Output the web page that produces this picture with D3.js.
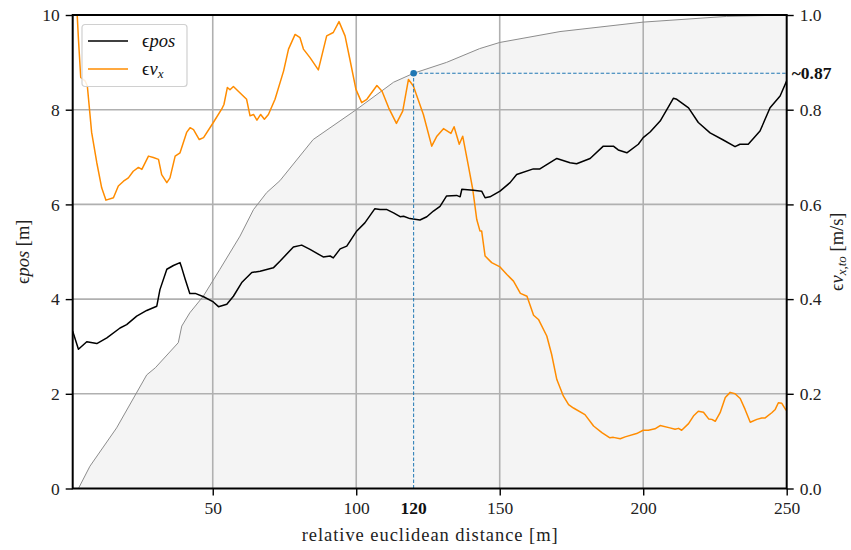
<!DOCTYPE html>
<html>
<head>
<meta charset="utf-8">
<script src="https://cdn.jsdelivr.net/npm/d3@7"></script>
<style>
  body { margin: 0; background: #fff; }
  svg { display: block; font-family: "Liberation Serif", "DejaVu Serif", serif; }
</style>
</head>
<body>
<svg id="chart" width="851" height="550"></svg>
<script>
// position error [m] along the track
const posDist = [1.2, 3.2, 6.1, 9.6, 13.1, 17.7, 20, 23.5, 27, 30.5, 31.6, 34, 36.3, 38.6, 39.2, 40.4, 42, 43.9, 46.8, 50.2, 52, 54.9, 57.2, 60.1, 63.6, 66.5, 71.1, 73.4, 78.1, 81, 83.9, 88.5, 90.9, 92, 94.4, 96.7, 100.2, 103, 106.5, 108.3, 110.7, 113, 115.3, 116.5, 118.7, 122.2, 124.6, 126.9, 129.2, 131.5, 135, 136.2, 136.8, 140.8, 143.7, 144.9, 146.6, 150.1, 153.6, 155.9, 161.7, 164, 169.9, 174.5, 176.8, 181.5, 186.1, 189.6, 191.3, 194.3, 198.3, 200, 202.4, 205.9, 210.5, 211.7, 215.8, 219.2, 223.3, 227.9, 232, 233.7, 236.6, 240.7, 244.2, 247.7, 250]
const posErr = [3.32, 2.94, 3.10, 3.06, 3.18, 3.39, 3.46, 3.64, 3.76, 3.85, 4.2, 4.63, 4.71, 4.77, 4.66, 4.42, 4.12, 4.12, 4.05, 3.94, 3.84, 3.89, 4.06, 4.35, 4.56, 4.59, 4.66, 4.80, 5.10, 5.14, 5.05, 4.89, 4.91, 4.87, 5.06, 5.12, 5.44, 5.61, 5.91, 5.89, 5.89, 5.82, 5.74, 5.75, 5.70, 5.67, 5.74, 5.86, 5.96, 6.18, 6.19, 6.16, 6.32, 6.30, 6.28, 6.14, 6.16, 6.28, 6.46, 6.63, 6.75, 6.75, 6.97, 6.88, 6.86, 6.97, 7.23, 7.23, 7.15, 7.09, 7.27, 7.41, 7.53, 7.76, 8.24, 8.22, 8.04, 7.73, 7.51, 7.36, 7.22, 7.27, 7.27, 7.55, 8.04, 8.29, 8.61]

// velocity error [m/s]
const velDist = [2.6, 3.2, 4.0, 5.5, 6.3, 7.8, 9.6, 11.3, 12.8, 15.4, 17.1, 18.9, 20.6, 22.3, 24.1, 25.3, 27.6, 29.3, 31.1, 32.2, 34, 35.1, 36.9, 38.6, 40.9, 42.1, 43.3, 45.3, 46.8, 50.2, 53.1, 53.9, 55.1, 56, 57.2, 58.9, 61.8, 63, 64.2, 65.4, 66.7, 68, 69.4, 71.7, 74.7, 76.4, 78.7, 80.4, 81.6, 83.9, 86.8, 89.7, 92, 94, 96.1, 97.8, 99.9, 101.9, 103.7, 107.2, 109, 111.3, 114, 116.2, 118.2, 119.9, 123.4, 126.3, 128.1, 130.4, 133, 134.1, 135.9, 137.1, 139.1, 140.6, 142, 143.1, 143.7, 144.9, 147.2, 150.1, 152.5, 154.8, 157.2, 159.5, 161.8, 163.5, 166.4, 168.1, 169.9, 172.2, 174, 175.7, 179.7, 182.7, 185.6, 188.4, 189.6, 192, 193.7, 197.7, 200, 201.8, 204.1, 205.9, 209.3, 211.1, 212.3, 213.4, 215.8, 217.5, 219.2, 221, 222.8, 223.9, 225.1, 226.8, 228.6, 230.3, 232, 233.8, 235.5, 237.3, 239.6, 241.3, 242.5, 244.8, 246, 247.1, 248.3, 249.8]
const velErr = [1.02, 0.949, 0.868, 0.861, 0.850, 0.752, 0.688, 0.635, 0.609, 0.614, 0.639, 0.649, 0.656, 0.670, 0.678, 0.674, 0.702, 0.699, 0.695, 0.663, 0.646, 0.656, 0.702, 0.709, 0.752, 0.762, 0.758, 0.737, 0.741, 0.773, 0.801, 0.811, 0.847, 0.842, 0.849, 0.839, 0.822, 0.787, 0.790, 0.778, 0.790, 0.780, 0.790, 0.822, 0.882, 0.928, 0.959, 0.952, 0.928, 0.910, 0.884, 0.956, 0.963, 0.986, 0.956, 0.906, 0.843, 0.815, 0.822, 0.851, 0.839, 0.804, 0.771, 0.797, 0.864, 0.850, 0.790, 0.723, 0.744, 0.760, 0.750, 0.764, 0.727, 0.744, 0.681, 0.632, 0.568, 0.544, 0.544, 0.491, 0.477, 0.468, 0.452, 0.438, 0.412, 0.406, 0.366, 0.357, 0.322, 0.283, 0.230, 0.195, 0.177, 0.170, 0.156, 0.132, 0.118, 0.107, 0.108, 0.105, 0.109, 0.116, 0.123, 0.123, 0.126, 0.133, 0.128, 0.125, 0.127, 0.123, 0.137, 0.153, 0.163, 0.161, 0.147, 0.146, 0.142, 0.160, 0.192, 0.203, 0.200, 0.190, 0.167, 0.140, 0.146, 0.149, 0.149, 0.160, 0.167, 0.181, 0.180, 0.165]

// cumulative share (right axis)
const cdfDist = [3.2, 7.2, 16.5, 27, 30, 38, 39.2, 42, 46.7, 52.5, 59.5, 64.2, 68.8, 73.4, 85, 100, 113, 120, 131.5, 143, 150, 171, 200, 229, 250]
const cdfVal = [0, 0.047, 0.128, 0.24, 0.255, 0.308, 0.343, 0.371, 0.406, 0.463, 0.533, 0.589, 0.625, 0.650, 0.737, 0.80, 0.858, 0.877, 0.90, 0.929, 0.942, 0.965, 0.985, 0.997, 1.0]

const xTicks = [50, 100, 150, 200, 250]
const yLeftTicks = [0, 2, 4, 6, 8, 10]
const yRightTicks = [0, 0.2, 0.4, 0.6, 0.8, 1.0]
const markDist = 120
const markVal = 0.877

const width = 851, height = 550
const margin = { top: 15, right: 64.3, bottom: 61.5, left: 72.7 }
const innerW = width - margin.left - margin.right
const innerH = height - margin.top - margin.bottom

const svg = d3.select("#chart")
const chart = svg.append("g").attr("transform", `translate(${margin.left},${margin.top})`)

const x = d3.scaleLinear().domain([1.2, 250]).range([0, innerW])
const yL = d3.scaleLinear().domain([0, 10]).range([innerH, 0])
const yR = d3.scaleLinear().domain([0, 1]).range([innerH, 0])

chart.append("clipPath").attr("id", "clip")
  .append("rect").attr("width", innerW).attr("height", innerH)

const cdf = cdfDist.map((d, i) => ({ d, v: cdfVal[i] }))
const pos = posDist.map((d, i) => ({ d, v: posErr[i] }))
const vel = velDist.map((d, i) => ({ d, v: velErr[i] }))

// shaded area under the cumulative curve
chart.append("path")
  .datum(cdf)
  .attr("fill", "#f4f4f4")
  .attr("d", d3.area().x(p => x(p.d)).y0(innerH).y1(p => yR(p.v)))

// grid
const grid = chart.append("g").attr("stroke", "#b0b0b0").attr("stroke-width", 1.6)
grid.selectAll(".gx").data(xTicks.filter(t => t < 250)).enter().append("line")
  .attr("x1", d => x(d)).attr("x2", d => x(d)).attr("y1", 0).attr("y2", innerH)
grid.selectAll(".gy").data(yLeftTicks.filter(t => t > 0 && t < 10)).enter().append("line")
  .attr("y1", d => yL(d)).attr("y2", d => yL(d)).attr("x1", 0).attr("x2", innerW)

const plot = chart.append("g").attr("clip-path", "url(#clip)")

plot.append("path")
  .datum(cdf)
  .attr("fill", "none")
  .attr("stroke", "#8c8c8c")
  .attr("stroke-width", 1)
  .attr("d", d3.line().x(p => x(p.d)).y(p => yR(p.v)))

plot.append("path")
  .datum(vel)
  .attr("fill", "none")
  .attr("stroke", "#ff8c00")
  .attr("stroke-width", 1.5)
  .attr("stroke-linejoin", "round")
  .attr("d", d3.line().x(p => x(p.d)).y(p => yR(p.v)))

plot.append("path")
  .datum(pos)
  .attr("fill", "none")
  .attr("stroke", "#000")
  .attr("stroke-width", 1.5)
  .attr("stroke-linejoin", "round")
  .attr("d", d3.line().x(p => x(p.d)).y(p => yL(p.v)))

// marker with dashed guides
const blue = "#1f77b4"
chart.append("line")
  .attr("x1", x(markDist)).attr("x2", x(markDist))
  .attr("y1", innerH).attr("y2", yR(markVal))
  .attr("stroke", blue).attr("stroke-width", 1).attr("stroke-dasharray", "3.5,2")
chart.append("line")
  .attr("x1", x(markDist)).attr("x2", innerW)
  .attr("y1", yR(markVal)).attr("y2", yR(markVal))
  .attr("stroke", blue).attr("stroke-width", 1).attr("stroke-dasharray", "3.5,2")
chart.append("circle")
  .attr("cx", x(markDist)).attr("cy", yR(markVal)).attr("r", 3.3)
  .attr("fill", blue)

// axes
const fontSize = 17.5
const titleSize = 18.5
const styleAxis = g => {
  g.select(".domain").remove()
  g.selectAll(".tick line").attr("stroke", "#000").attr("stroke-width", 1.4)
  g.selectAll(".tick text").attr("fill", "#222").style("font-size", fontSize + "px")
    .style("font-family", "'Liberation Serif', serif")
}

chart.append("g")
  .attr("transform", `translate(0,${innerH})`)
  .call(d3.axisBottom(x).tickValues(xTicks).tickSize(7).tickPadding(6).tickFormat(d3.format("d")))
  .call(styleAxis)

chart.append("g")
  .call(d3.axisLeft(yL).tickValues(yLeftTicks).tickSize(7).tickPadding(6).tickFormat(d3.format("d")))
  .call(styleAxis)

chart.append("g")
  .attr("transform", `translate(${innerW},0)`)
  .call(d3.axisRight(yR).tickValues(yRightTicks).tickSize(7).tickPadding(6).tickFormat(d3.format(".1f")))
  .call(styleAxis)

// highlighted values
chart.append("text")
  .attr("x", x(markDist)).attr("y", innerH + 13 + fontSize * 0.71)
  .attr("text-anchor", "middle")
  .attr("font-weight", "bold").attr("font-size", fontSize).attr("fill", "#111")
  .text(markDist)
chart.append("text")
  .attr("x", innerW + 5).attr("y", yR(markVal)).attr("dy", "0.32em")
  .attr("font-weight", "bold").attr("font-size", fontSize).attr("fill", "#111")
  .text("~" + d3.format(".2f")(Math.floor(markVal * 100) / 100))

// spines
chart.append("rect")
  .attr("width", innerW).attr("height", innerH)
  .attr("fill", "none").attr("stroke", "#000").attr("stroke-width", 2)

// axis titles
svg.append("text")
  .attr("x", margin.left + innerW / 2).attr("y", 541)
  .attr("text-anchor", "middle").attr("font-size", titleSize).attr("fill", "#222")
  .attr("textLength", 256).attr("lengthAdjust", "spacing")
  .text("relative euclidean distance [m]")

const leftTitle = svg.append("text")
  .attr("transform", `translate(29,${margin.top + innerH / 2}) rotate(-90)`)
  .attr("text-anchor", "middle").attr("font-size", titleSize).attr("fill", "#222")
leftTitle.append("tspan").text("ϵ")
leftTitle.append("tspan").attr("font-style", "italic").text("pos")
leftTitle.append("tspan").text(" [m]")

const rightTitle = svg.append("text")
  .attr("transform", `translate(843,${margin.top + innerH / 2}) rotate(-90)`)
  .attr("text-anchor", "middle").attr("font-size", titleSize).attr("fill", "#222")
rightTitle.append("tspan").text("ϵ")
rightTitle.append("tspan").attr("font-style", "italic").text("v")
rightTitle.append("tspan").attr("font-style", "italic").attr("font-size", 13).attr("dy", 3).text("x,to")
rightTitle.append("tspan").attr("dy", -3).text(" [m/s]")

// legend
const legend = svg.append("g").attr("transform", "translate(82,24.5)")
legend.append("rect")
  .attr("width", 105).attr("height", 62).attr("rx", 3)
  .attr("fill", "#fff").attr("fill-opacity", 0.85)
  .attr("stroke", "#d0d0d0").attr("stroke-width", 1.2)

const entries = [
  { color: "#000", main: "pos", sub: null },
  { color: "#ff8c00", main: "v", sub: "x" }
]
const item = legend.selectAll(".item").data(entries).enter().append("g")
  .attr("transform", (d, i) => `translate(0,${16.5 + i * 28})`)
item.append("line")
  .attr("x1", 6).attr("x2", 46)
  .attr("stroke", d => d.color).attr("stroke-width", 1.5)
const label = item.append("text")
  .attr("x", 60).attr("dy", "0.35em").attr("font-size", titleSize).attr("fill", "#111")
label.append("tspan").text("ϵ")
label.append("tspan").attr("font-style", "italic").text(d => d.main)
label.filter(d => d.sub).append("tspan")
  .attr("font-style", "italic").attr("font-size", 13).attr("dy", 3).text(d => d.sub)
</script>
</body>
</html>
